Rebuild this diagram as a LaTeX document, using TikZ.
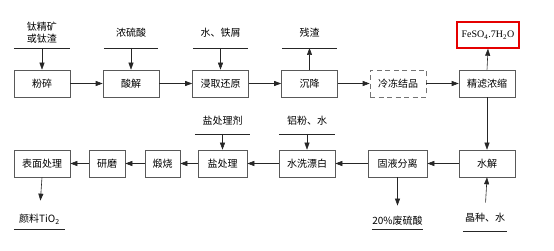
\documentclass[tikz,border=0pt]{standalone}
\usepackage{fontspec}
\setmainfont{Liberation Serif}
\newfontfamily\cjk{Noto Sans CJK SC}
\usetikzlibrary{arrows.meta,positioning}

\begin{document}
\begin{tikzpicture}[x=1pt,y=-1pt,font=\cjk\fontsize{10}{12}\selectfont,
 stage/.style={draw=black!65,line width=.6pt,minimum width=56pt,minimum height=27pt,inner sep=0pt},
 dstage/.style={stage,draw=black!55,dash pattern=on 5pt off 3.5pt},
 feed/.style={anchor=south,inner sep=0pt,align=center,text height=9pt},
 flow/.style={-{Triangle[length=7pt,width=5pt]},black!85,line width=.6pt},
 rule/.style={black!85,line width=.6pt}]
\useasboundingbox (0,0) rectangle (554,251);
% top row, left to right
\foreach \nm/\x/\s/\t in {crush/42/stage/粉碎,acid/131/stage/酸解,leach/220.5/stage/浸取还原,
 settle/309.5/stage/沉降,freeze/398/dstage/冷冻结品,filt/487/stage/精滤浓缩}
 \node[\s] (\nm) at (\x,83.5) {\t};
\node[stage,draw=red!90!black,line width=1.4pt,minimum width=62pt,minimum height=26pt,
 font=\rmfamily\fontsize{10}{12}\selectfont] (fes) at (488,35) {FeSO\textsubscript{4}.7H\textsubscript{2}O};
% bottom row, right to left
\foreach \nm/\x/\w/\t in {hydro/487/56/水解,sep/397.5/59/固液分离,bleach/307/56/水洗漂白,
 salt/222.5/49/盐处理,calc/162.5/35/煅烧,grind/107/36/研磨,surf/42/56/表面处理}
 \node[stage,minimum width=\w pt] (\nm) at (\x,163.5) {\t};
% feeds and products with their rules
\node[feed,minimum width=56pt,text depth=5pt] (ore) at (42,48) {钛精矿\\或钛渣};
\node[feed,minimum width=54pt,text depth=11pt] (h2so4) at (131,48) {浓硫酸};
\node[feed,minimum width=55pt,text depth=11pt] (iron) at (220.5,48) {水、铁屑};
\node[feed,minimum width=55pt,text depth=11pt] (resid) at (309.5,48) {残渣};
\node[feed,minimum width=55pt,text depth=9pt] (agent) at (222.5,134) {盐处理剂};
\node[feed,minimum width=56pt,text depth=9pt] (alum) at (307,134) {铝粉、水};
\node[feed,minimum width=51pt,text depth=6pt] (pigm) at (39.5,229) {颜料TiO\textsubscript{2}};
\node[feed,minimum width=51pt,text depth=4pt] (waste) at (397.5,229) {20\%废硫酸};
\node[feed,minimum width=44pt,text depth=9pt] (seed) at (485,231) {晶种、水};
\foreach \nm in {ore,h2so4,iron,resid,agent,alum,pigm,waste,seed}
 \draw[rule] (\nm.south west) -- (\nm.south east);
% connectors
\foreach \a/\b in {crush/acid,acid/leach,leach/settle,settle/freeze,freeze/filt}
 \draw[flow] (\a) -- (\b);
\foreach \a/\b in {hydro/sep,sep/bleach,bleach/salt,salt/calc,calc/grind,grind/surf}
 \draw[flow] (\a) -- (\b);
\foreach \a/\b in {ore/crush,h2so4/acid,iron/leach,agent/salt,alum/bleach}
 \draw[flow] (\a.south) -- (\b.north);
\draw[flow] (settle.north) -- (resid.south);
\draw[flow] (filt.north) -- (fes.south);
\draw[flow] (filt.south) -- (hydro.north);
\draw[flow,shorten >=13pt] (surf.south) -- (pigm.north);
\draw[flow,shorten >=10pt] (sep.south) -- (waste.north);
\draw[flow,shorten <=10pt] (seed.north) -- (hydro.south);
\end{tikzpicture}
\end{document}
